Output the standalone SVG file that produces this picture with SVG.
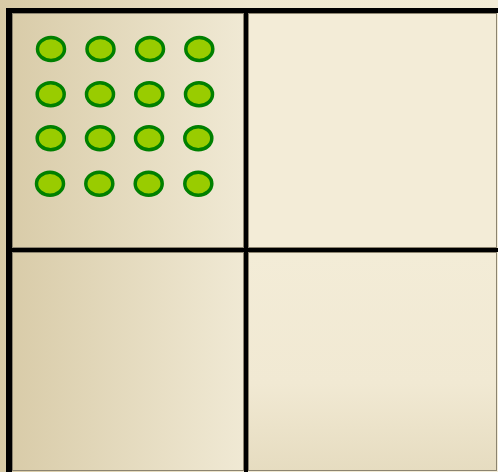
<svg xmlns="http://www.w3.org/2000/svg" width="498" height="472" viewBox="0 0 498 472">
<defs>
<linearGradient id="bg" x1="0" y1="0" x2="1" y2="0">
<stop offset="0" stop-color="#d8caa6"/>
<stop offset="0.5" stop-color="#efe7d0"/>
<stop offset="1" stop-color="#f3ecd7"/>
</linearGradient>
<linearGradient id="lc" x1="0" y1="0" x2="1" y2="0">
<stop offset="0" stop-color="#d9cca9"/>
<stop offset="1" stop-color="#f0e9d4"/>
</linearGradient>
<linearGradient id="rc" x1="0" y1="0" x2="0" y2="1">
<stop offset="0" stop-color="#f3ecd7"/>
<stop offset="0.6" stop-color="#f1e9d3"/>
<stop offset="1" stop-color="#e6dcc0"/>
</linearGradient>
<style>
.cell{stroke:#8c8470;stroke-width:1}
.dot{fill:#99cc00;stroke:#008000;stroke-width:3.5}
.frame{stroke:#000;fill:none}
</style>
</defs>
<rect x="0" y="0" width="498" height="472" fill="url(#bg)"/>
<g id="cell-top-left"><rect class="cell" x="12.5" y="13.5" width="231" height="234" fill="url(#lc)"/></g>
<g id="cell-top-right"><rect class="cell" x="248.5" y="13.5" width="248" height="234" fill="#f3ecd7"/></g>
<g id="cell-bottom-left"><rect class="cell" x="12.5" y="252.5" width="231" height="218" fill="url(#lc)"/></g>
<g id="cell-bottom-right"><rect class="cell" x="248.5" y="252.5" width="248" height="218" fill="url(#rc)"/></g>
<g id="dots">
<ellipse class="dot" cx="51" cy="49" rx="13.5" ry="11.5"/>
<ellipse class="dot" cx="100.5" cy="49" rx="13.5" ry="11.5"/>
<ellipse class="dot" cx="150" cy="49" rx="13.5" ry="11.5"/>
<ellipse class="dot" cx="199.3" cy="49" rx="13.5" ry="11.5"/>
<ellipse class="dot" cx="50.7" cy="94.3" rx="13.5" ry="11.5"/>
<ellipse class="dot" cx="100" cy="94.3" rx="13.5" ry="11.5"/>
<ellipse class="dot" cx="149.3" cy="94.3" rx="13.5" ry="11.5"/>
<ellipse class="dot" cx="199" cy="94.3" rx="13.5" ry="11.5"/>
<ellipse class="dot" cx="50.7" cy="138.3" rx="13.5" ry="11.5"/>
<ellipse class="dot" cx="100" cy="138.3" rx="13.5" ry="11.5"/>
<ellipse class="dot" cx="149" cy="138.3" rx="13.5" ry="11.5"/>
<ellipse class="dot" cx="198.3" cy="138.3" rx="13.5" ry="11.5"/>
<ellipse class="dot" cx="50" cy="183.7" rx="13.5" ry="11.5"/>
<ellipse class="dot" cx="99.3" cy="183.7" rx="13.5" ry="11.5"/>
<ellipse class="dot" cx="148.7" cy="183.7" rx="13.5" ry="11.5"/>
<ellipse class="dot" cx="198.3" cy="183.7" rx="13.5" ry="11.5"/>
</g>
<g id="connectors">
<line class="frame" x1="9" y1="8" x2="9" y2="472" stroke-width="6"/>
<line class="frame" x1="6" y1="10.5" x2="498" y2="10.5" stroke-width="5"/>
<line class="frame" x1="246" y1="8" x2="246" y2="472" stroke-width="4"/>
<line class="frame" x1="12" y1="250" x2="498" y2="250" stroke-width="4"/>
</g>
</svg>
